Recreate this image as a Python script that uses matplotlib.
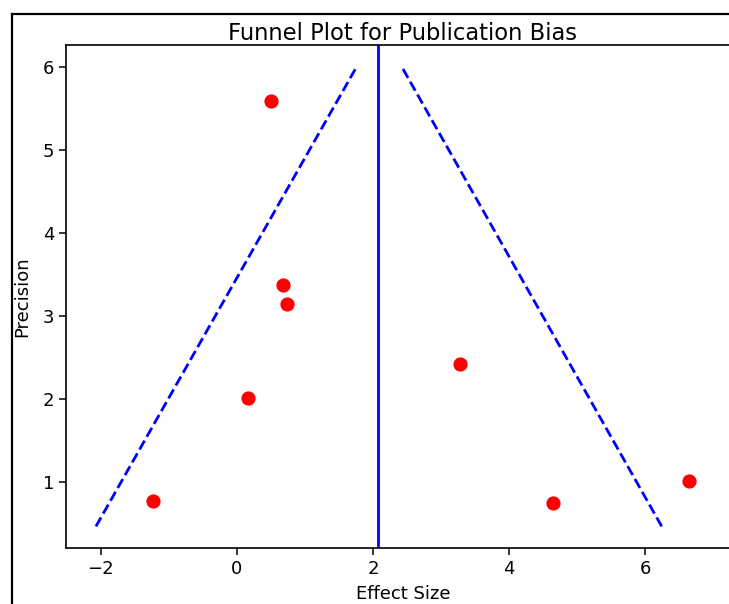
import matplotlib
matplotlib.use("Agg")
import matplotlib.pyplot as plt
from matplotlib.lines import Line2D

# study effect sizes and precisions (1/SE)
effect_size = [0.50, 0.68, 0.73, 0.16, -1.23, 3.27, 4.64, 6.64]
precision = [5.59, 3.37, 3.14, 2.02, 0.77, 2.42, 0.75, 1.01]

# pooled effect and funnel limits
pooled_effect = 2.08
funnel_precision = [0.47, 6.0]
funnel_left = [-2.07, 1.76]
funnel_right = [6.24, 2.42]

fig = plt.figure(figsize=(7.29, 6.04), dpi=100)
ax = fig.add_axes([66 / 729, 1 - 548 / 604, 674 / 729, 503 / 604])

ax.scatter(effect_size, precision, color="red", s=85, zorder=3)
ax.axvline(pooled_effect, color="blue", linewidth=2)
ax.plot(funnel_left, funnel_precision, color="blue", linestyle="--", linewidth=2)
ax.plot(funnel_right, funnel_precision, color="blue", linestyle="--", linewidth=2)

ax.set_xlim(-2.51, 7.39)
ax.set_ylim(0.21, 6.26)
ax.set_xticks([-2, 0, 2, 4, 6])
ax.set_yticks([1, 2, 3, 4, 5, 6])

ax.set_title("Funnel Plot for Publication Bias", fontsize=16.3, pad=3)
ax.set_xlabel("Effect Size", fontsize=13, labelpad=5.5)
ax.set_ylabel("Precision", fontsize=13, labelpad=8)
ax.tick_params(labelsize=13, length=5, width=1.1)
for sp in ax.spines.values():
    sp.set_linewidth(1.2)

# screenshot frame
fig.add_artist(Line2D([12 / 729, 12 / 729], [0, 1 - 14 / 604], color="black", linewidth=1.6))
fig.add_artist(Line2D([12 / 729, 1], [1 - 14 / 604, 1 - 14 / 604], color="black", linewidth=1.6))

fig.savefig("out.png", dpi=100)
